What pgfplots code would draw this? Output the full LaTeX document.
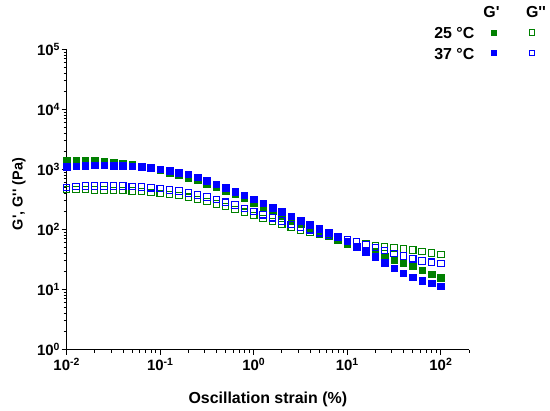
\documentclass[border=0pt]{standalone}
\usepackage{pgfplots}
\pgfplotsset{compat=1.18}
\usepackage{pgfplotstable}
\usepackage{fontspec}
\setmainfont{Liberation Sans}
\definecolor{dkgreen}{RGB}{0,128,0}
\definecolor{myblue}{RGB}{0,0,255}

\pgfplotstableread{
x gf go bf bo
0.01 1400 468 1110 505
0.01259 1410 462 1140 517
0.01585 1405 460 1160 528
0.01995 1385 456 1170 532
0.02512 1355 454 1172 533
0.03162 1315 450 1168 532
0.03981 1265 446 1155 528
0.05012 1205 440 1135 520
0.0631 1135 430 1105 510
0.07943 1055 415 1065 495
0.1 975 398 1015 478
0.1259 893 382 955 458
0.1585 812 366 893 436
0.1995 735 345 828 408
0.2512 660 318 740 378
0.3162 585 292 652 350
0.3981 512 265 568 315
0.5012 445 241 497 285
0.631 385 217 430 256
0.7943 330 194 372 226
1 278 172 318 199
1.259 236 152 272 176
1.585 200 136 233 157
1.995 170 121 197 138
2.512 145 108 166 122
3.162 124 98 140 109
3.981 106 89 120 99
5.012 91 82 103 88
6.31 78 77 88 81
7.943 67 72 75 75
10 58 67 64 68
12.59 51 62 52 62
15.85 45 57 43 56
19.95 40 53.5 35 50
25.12 35 51 28 45
31.62 31.5 49 22.6 39.5
39.81 28 47.5 18.6 36
50.12 25 45.5 16 32.5
63.1 21 43 14 30
79.43 18 40.6 12.7 28.5
100 15.7 38.6 11.4 27.3
}\datatable

\newcommand{\tl}[1]{\bfseries 10\textsuperscript{#1}}

\begin{document}
\begin{tikzpicture}
\useasboundingbox (0,0) rectangle (550bp,-411bp);
\begin{axis}[
  at={(66.7bp,-349.5bp)}, anchor=south west,
  scale only axis, width=402.3bp, height=300bp,
  xmode=log, ymode=log,
  xmin=0.01, xmax=200, ymin=1, ymax=100000,
  axis lines=left,
  axis line style={-, line width=1.3bp, black},
  tick align=outside,
  major tick length=5bp, minor tick length=3bp,
  every tick/.style={black, line width=1bp},
  xtick={0.01,0.1,1,10,100},
  xticklabels={\tl{-2},\tl{-1},\tl{0},\tl{1},\tl{2}},
  minor xtick={0.02,0.03,0.04,0.05,0.06,0.07,0.08,0.09,0.2,0.3,0.4,0.5,0.6,0.7,0.8,0.9,2,3,4,5,6,7,8,9,20,30,40,50,60,70,80,90,200},
  ytick={1,10,100,1000,10000,100000},
  yticklabels={\tl{0},\tl{1},\tl{2},\tl{3},\tl{4},\tl{5}},
  minor ytick={2,3,4,5,6,7,8,9,20,30,40,50,60,70,80,90,200,300,400,500,600,700,800,900,2000,3000,4000,5000,6000,7000,8000,9000,20000,30000,40000,50000,60000,70000,80000,90000},
  tick label style={font=\fontsize{15}{15}\selectfont\bfseries},
  yticklabel style={inner sep=1.5bp},
  xlabel={\bfseries Oscillation strain (\%)},
  ylabel={\bfseries G\textquotesingle, G\textquotesingle\textquotesingle\ (Pa)},
  xlabel style={font=\fontsize{16}{16}\selectfont, at={(axis description cs:0.5,-0.165)}, anchor=center},
  ylabel style={font=\fontsize{14.5}{15}\selectfont, at={(axis description cs:-0.1186,0.518)}, anchor=center},
  clip=false,
]
\addplot[only marks, mark=square*, mark size=3.3bp, color=dkgreen, mark options={line width=0.5bp}] table[x=x,y=gf] {\datatable};
\addplot[only marks, mark=square, mark size=3.2bp, color=dkgreen, mark options={line width=1.1bp}] table[x=x,y=go] {\datatable};
\addplot[only marks, mark=square*, mark size=3.3bp, color=myblue, mark options={line width=0.5bp}] table[x=x,y=bf] {\datatable};
\addplot[only marks, mark=square, mark size=3.2bp, color=myblue, mark options={line width=1.1bp}] table[x=x,y=bo] {\datatable};
\end{axis}
% legend axis in pixel coordinates
\begin{axis}[
  at={(0bp,-411bp)}, anchor=south west,
  scale only axis, width=550bp, height=411bp,
  xmin=0, xmax=550, ymin=-411, ymax=0,
  hide axis, clip=false,
]
\addplot[only marks, mark=square*, mark size=2.7bp, color=dkgreen] coordinates {(493.7,-32.5)};
\addplot[only marks, mark=square, mark size=2.6bp, color=dkgreen, mark options={line width=1bp}] coordinates {(531.7,-32.5)};
\addplot[only marks, mark=square*, mark size=2.7bp, color=myblue] coordinates {(493.7,-53)};
\addplot[only marks, mark=square, mark size=2.6bp, color=myblue, mark options={line width=1bp}] coordinates {(531.7,-53)};
\node[anchor=center, font=\fontsize{16}{16}\selectfont\bfseries] at (axis cs:491.5,-12.5) {G\textquotesingle};
\node[anchor=center, font=\fontsize{16}{16}\selectfont\bfseries] at (axis cs:536,-12.5) {G\textquotesingle\textquotesingle};
\node[anchor=east, font=\fontsize{16}{16}\selectfont\bfseries, inner sep=0pt] at (axis cs:474.5,-33) {25 °C};
\node[anchor=east, font=\fontsize{16}{16}\selectfont\bfseries, inner sep=0pt] at (axis cs:474.5,-54) {37 °C};
\end{axis}
\end{tikzpicture}
\end{document}
